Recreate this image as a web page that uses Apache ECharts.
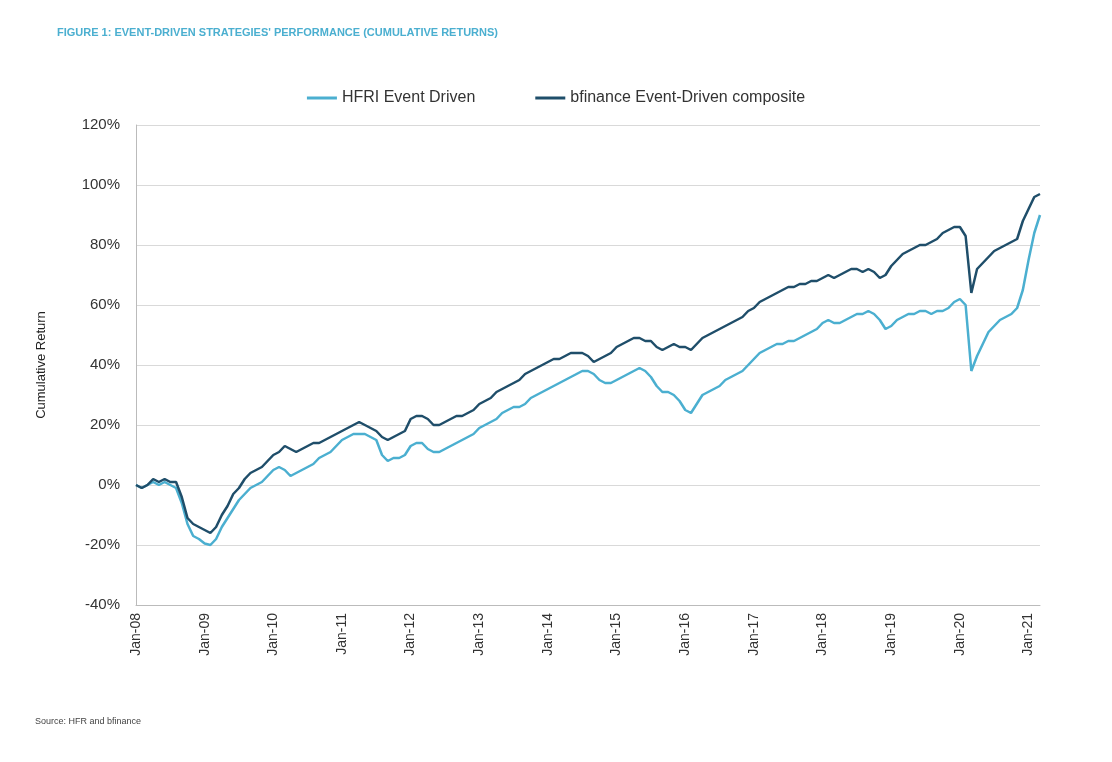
<!DOCTYPE html>
<html>
<head>
<meta charset="utf-8">
<script src="https://cdn.jsdelivr.net/npm/echarts@6/dist/echarts.min.js"></script>
<style>
  body { margin: 0; background: #fff; }
  #chart { width: 1112px; height: 762px; }
</style>
</head>
<body>
<div id="chart"></div>
<script>
// monthly cumulative returns (%), Jan-08 .. Mar-21
const hfri = [
  0, -1, 0, 1, 0, 1, 0, -1, -6, -13, -17, -18,
  -19.5, -20, -18, -14, -11, -8, -5, -3, -1, 0, 1, 3,
  5, 6, 5, 3, 4, 5, 6, 7, 9, 10, 11, 13,
  15, 16, 17, 17, 17, 16, 15, 10, 8, 9, 9, 10,
  13, 14, 14, 12, 11, 11, 12, 13, 14, 15, 16, 17,
  19, 20, 21, 22, 24, 25, 26, 26, 27, 29, 30, 31,
  32, 33, 34, 35, 36, 37, 38, 38, 37, 35, 34, 34,
  35, 36, 37, 38, 39, 38, 36, 33, 31, 31, 30, 28,
  25, 24, 27, 30, 31, 32, 33, 35, 36, 37, 38, 40,
  42, 44, 45, 46, 47, 47, 48, 48, 49, 50, 51, 52,
  54, 55, 54, 54, 55, 56, 57, 57, 58, 57, 55, 52,
  53, 55, 56, 57, 57, 58, 58, 57, 58, 58, 59, 61,
  62, 60, 38, 43, 47, 51, 53, 55, 56, 57, 59, 65,
  75, 84, 90
];
const composite = [
  0, -1, 0, 2, 1, 2, 1, 1, -4, -11, -13, -14,
  -15, -16, -14, -10, -7, -3, -1, 2, 4, 5, 6, 8,
  10, 11, 13, 12, 11, 12, 13, 14, 14, 15, 16, 17,
  18, 19, 20, 21, 20, 19, 18, 16, 15, 16, 17, 18,
  22, 23, 23, 22, 20, 20, 21, 22, 23, 23, 24, 25,
  27, 28, 29, 31, 32, 33, 34, 35, 37, 38, 39, 40,
  41, 42, 42, 43, 44, 44, 44, 43, 41, 42, 43, 44,
  46, 47, 48, 49, 49, 48, 48, 46, 45, 46, 47, 46,
  46, 45, 47, 49, 50, 51, 52, 53, 54, 55, 56, 58,
  59, 61, 62, 63, 64, 65, 66, 66, 67, 67, 68, 68,
  69, 70, 69, 70, 71, 72, 72, 71, 72, 71, 69, 70,
  73, 75, 77, 78, 79, 80, 80, 81, 82, 84, 85, 86,
  86, 83, 64, 72, 74, 76, 78, 79, 80, 81, 82, 88,
  92, 96, 97
];
const monthNames = ['Jan','Feb','Mar','Apr','May','Jun','Jul','Aug','Sep','Oct','Nov','Dec'];
let months = [];
for (let i = 0; i < hfri.length; i++) {
  let y = 8 + Math.floor(i / 12);
  months.push(monthNames[i % 12] + '-' + (y < 10 ? '0' + y : y));
}

const chart = echarts.init(document.getElementById('chart'));
chart.setOption({
  textStyle: { fontFamily: 'Liberation Sans' },
  title: [
    { text: "FIGURE 1: EVENT-DRIVEN STRATEGIES' PERFORMANCE (CUMULATIVE RETURNS)", left: 52, top: 22,
      textStyle: { color: '#4BAFD0', fontSize: 11, fontWeight: 'bold' } },
    { text: 'Source: HFR and bfinance', left: 30, top: 712,
      textStyle: { color: '#444', fontSize: 9, fontWeight: 'normal' } }
  ],
  legend: {
    top: 85, left: 'center', itemGap: 60, itemWidth: 30,
    icon: 'rect', itemHeight: 3,
    textStyle: { fontSize: 16, color: '#333' },
    data: ['HFRI Event Driven', 'bfinance Event-Driven composite']
  },
  grid: { left: 136, right: 72, top: 125, bottom: 157 },
  xAxis: {
    type: 'category', data: months, boundaryGap: false,
    axisLine: { onZero: false, lineStyle: { color: '#bbb' } },
    axisTick: { show: false },
    axisLabel: {
      rotate: 90, color: '#333', fontSize: 14,
      interval: (i) => i % 12 === 0
    }
  },
  yAxis: {
    type: 'value', min: -40, max: 120, interval: 20,
    name: 'Cumulative Return', nameLocation: 'middle', nameGap: 88,
    nameTextStyle: { fontSize: 13, color: '#222' },
    axisLabel: { formatter: '{value}%', color: '#333', fontSize: 15, margin: 16 },
    axisLine: { show: true, lineStyle: { color: '#bbb' } },
    splitLine: { lineStyle: { color: '#d9d9d9' } }
  },
  series: [
    { name: 'HFRI Event Driven', type: 'line', data: hfri, showSymbol: false,
      color: '#4BAFD0', lineStyle: { width: 2.5 } },
    { name: 'bfinance Event-Driven composite', type: 'line', data: composite, showSymbol: false,
      color: '#1F4E6A', lineStyle: { width: 2.5 } }
  ]
});
</script>
</body>
</html>
